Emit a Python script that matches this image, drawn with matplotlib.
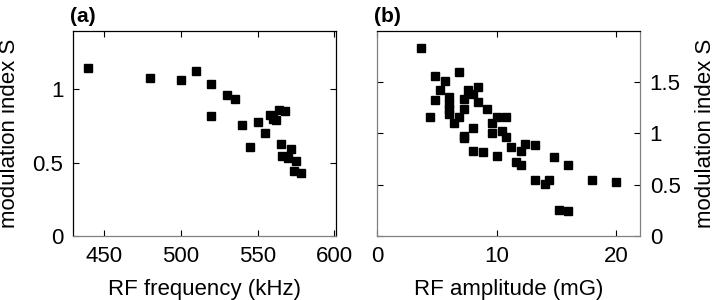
import numpy as np
import matplotlib
matplotlib.use("Agg")
import matplotlib.pyplot as plt

plt.rcParams["font.family"] = ["Liberation Sans", "DejaVu Sans"]

# (a) modulation index vs RF frequency
freq_khz = [440, 480, 500, 510, 520, 520, 530, 535, 540, 545, 550, 555,
            558, 560, 562, 564, 568, 565, 566, 570, 572, 575, 574, 578]
s_freq = [1.148, 1.077, 1.064, 1.127, 1.036, 0.820, 0.964, 0.934, 0.759,
          0.609, 0.780, 0.700, 0.823, 0.800, 0.791, 0.861, 0.850, 0.627,
          0.545, 0.534, 0.591, 0.511, 0.445, 0.430]

# (b) modulation index vs RF amplitude
amp_mg = [3.67, 4.47, 4.86, 4.86, 5.25, 5.67, 6.06, 6.06, 6.06, 6.06, 6.47,
          6.83, 6.83, 7.25, 7.25, 7.25, 7.25, 7.64, 8.03, 8.44, 8.44, 8.06,
          8.06, 8.86, 9.22, 9.64, 9.64, 10.06, 10.06, 10.44, 10.83, 10.83,
          11.22, 11.61, 12.03, 12.03, 12.42, 13.22, 13.22, 14.03, 14.42,
          14.81, 15.22, 16.0, 16.0, 18.0, 19.97]
s_amp = [1.833, 1.157, 1.559, 1.327, 1.418, 1.510, 1.356, 1.284, 1.235,
         1.193, 1.101, 1.157, 1.598, 1.330, 1.235, 0.974, 0.951, 1.425,
         1.382, 1.451, 1.307, 1.056, 0.830, 0.817, 1.239, 1.101, 1.003,
         1.160, 0.784, 1.023, 1.160, 0.967, 0.863, 0.725, 0.693, 0.827,
         0.895, 0.889, 0.549, 0.503, 0.549, 0.771, 0.255, 0.239, 0.690,
         0.549, 0.523]

FS = 16
GREY = "#808080"

fig = plt.figure(figsize=(7.18, 3.0), dpi=100)
ax1 = fig.add_axes([0.1017, 0.2133, 0.3663, 0.6844])
ax2 = fig.add_axes([0.5251, 0.2133, 0.3663, 0.6844])

for ax in (ax1, ax2):
    ax.tick_params(direction="in", top=True, right=True, left=True,
                   bottom=True, labelsize=FS, length=4, width=0.8,
                   colors="black", pad=7)
    for sp in ax.spines.values():
        sp.set_linewidth(0.9)
        sp.set_color("black")
    ax.spines["bottom"].set_color(GREY)

ax1.plot(freq_khz, s_freq, "s", color="black", ms=6)
ax1.set_xlim(430, 601)
ax1.set_ylim(0, 1.4)
ax1.set_xticks([450, 500, 550, 600])
ax1.set_yticks([0, 0.5, 1])
ax1.set_yticklabels(["0", "0.5", "1"])
ax1.set_xlabel("RF frequency (kHz)", fontsize=FS, labelpad=9)
ax1.set_ylabel("modulation index S", fontsize=FS, labelpad=9)
ax1.set_title("(a)", fontsize=FS - 1, fontweight="bold", loc="left", x=-0.01, pad=6)

ax2.plot(amp_mg, s_amp, "s", color="black", ms=6)
ax2.set_xlim(0, 22)
ax2.set_ylim(0, 2.0)
ax2.set_xticks([0, 10, 20])
ax2.set_yticks([0, 0.5, 1, 1.5])
ax2.set_yticklabels(["0", "0.5", "1", "1.5"])
ax2.yaxis.tick_right()
ax2.yaxis.set_label_position("right")
ax2.tick_params(left=True, labelleft=False, labelright=True)
ax2.spines["left"].set_color(GREY)
ax2.spines["right"].set_color(GREY)
ax2.set_xlabel("RF amplitude (mG)", fontsize=FS, labelpad=9)
ax2.set_ylabel("modulation index S", fontsize=FS, labelpad=10)
ax2.set_title("(b)", fontsize=FS - 1, fontweight="bold", loc="left", x=-0.01, pad=6)

fig.savefig("out.png", dpi=100, facecolor="white")
